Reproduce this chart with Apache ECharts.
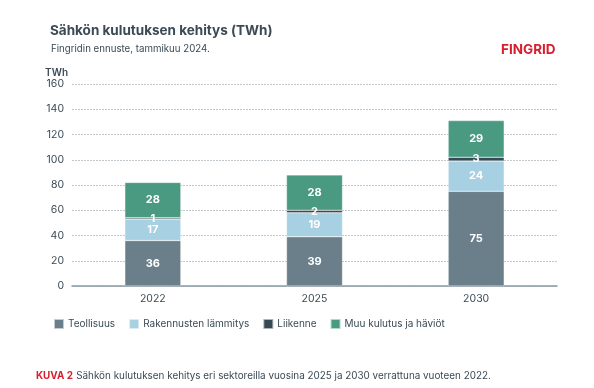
<!DOCTYPE html>
<html><head><meta charset="utf-8">
<script src="https://cdn.jsdelivr.net/npm/echarts@6/dist/echarts.min.js"></script>
<style>html,body{margin:0;padding:0;background:#fff}#c{width:594px;height:388px}</style>
</head><body><div id="c"></div>
<script>
const categories = ['2022', '2025', '2030'];
const teollisuus = [36, 39, 75];
const rakennusten = [17, 19, 24];
const liikenne = [1, 2, 3];
const muu = [28, 28, 29];
const seriesNames = ['Teollisuus', 'Rakennusten lämmitys', 'Liikenne', 'Muu kulutus ja häviöt'];
const colors = ['#6b7f8b', '#a7d0e2', '#364a55', '#4a9a82'];
const FONT = 'Inter, Roboto, sans-serif';
const chart = echarts.init(document.getElementById('c'));
const dataSets = [teollisuus, rakennusten, liikenne, muu];
chart.setOption({
  animation: false,
  textStyle: {fontFamily: FONT},
  title: [
    {text: 'Sähkön kulutuksen kehitys (TWh)', left: 45, top: 19,
     textStyle: {fontSize: 13.5, fontWeight: 'bold', color: '#3b4a55', fontFamily: FONT}},
    {text: 'Fingridin ennuste, tammikuu 2024.', left: 46, top: 39,
     textStyle: {fontSize: 9.7, fontWeight: 'normal', color: '#3b4a55', fontFamily: FONT}},
    {text: 'FINGRID', left: 496, top: 38,
     textStyle: {fontSize: 13.5, fontWeight: 'bold', color: '#d7202f', fontFamily: FONT}}
  ],
  legend: {
    left: 48, top: 313, itemWidth: 10, itemHeight: 10, itemGap: 13,
    icon: 'rect', data: seriesNames,
    textStyle: {fontSize: 10, color: '#3b4a55', fontFamily: FONT, padding: [0, 0, 0, -1]}
  },
  grid: {left: 72, right: 37, top: 84, bottom: 102},
  xAxis: {
    type: 'category', data: categories,
    axisLine: {lineStyle: {color: '#8a9ba6', width: 1.5}},
    axisTick: {show: false},
    axisLabel: {fontSize: 10.5, color: '#3b4a55', margin: 7}
  },
  yAxis: {
    type: 'value', min: 0, max: 160, interval: 20,
    name: 'TWh', nameLocation: 'end', nameGap: 6,
    nameTextStyle: {fontSize: 10, color: '#3b4a55', fontWeight: 600, align: 'right', padding: [0, 4, 0, 0]},
    axisLine: {show: false}, axisTick: {show: false},
    axisLabel: {fontSize: 10.5, color: '#3b4a55', margin: 8},
    splitLine: {lineStyle: {color: '#c2c8cc', type: [2, 1], width: 1}}
  },
  series: dataSets.map((d, i) => ({
    name: seriesNames[i], type: 'bar', stack: 'total', data: d,
    barWidth: 56,
    itemStyle: {color: colors[i], borderColor: 'rgba(255,255,255,0.6)', borderWidth: 0.5},
    label: {show: true, position: 'inside', color: '#fff', fontWeight: 'bold', fontSize: 11, fontFamily: FONT}
  })),
  graphic: [{
    type: 'text', left: 36, top: 370,
    style: {
      text: '{r|KUVA 2} {g|Sähkön kulutuksen kehitys eri sektoreilla vuosina 2025 ja 2030 verrattuna vuoteen 2022.}',
      rich: {
        r: {fill: '#d7202f', fontWeight: 'bold', fontSize: 9.9, fontFamily: FONT},
        g: {fill: '#3b4a55', fontSize: 9.9, fontFamily: FONT}
      }
    }
  }]
});
</script></body></html>
